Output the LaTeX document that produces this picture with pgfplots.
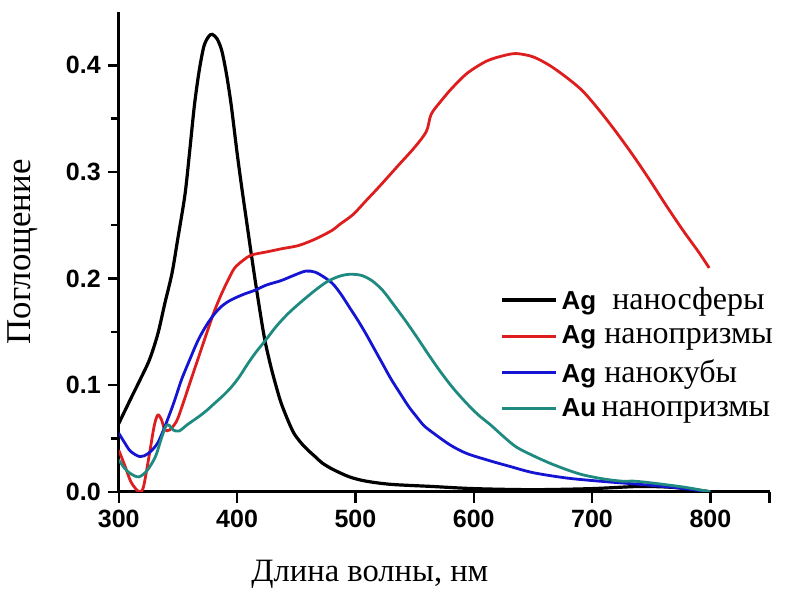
\documentclass[border=0pt]{standalone}
\usepackage{fontspec}
\setmainfont{Liberation Serif}
\newfontfamily\sansb{Liberation Sans}
\usepackage{pgfplots}
\pgfplotsset{compat=1.18}
\definecolor{cred}{RGB}{222,30,30}
\definecolor{cblue}{RGB}{20,20,210}
\definecolor{cteal}{RGB}{30,138,128}
\begin{document}
\begin{tikzpicture}
\begin{axis}[name=ax,
  scale only axis, width=325.5pt, height=240pt,
  xmin=300, xmax=850, ymin=0, ymax=0.45,
  axis lines=left, axis line style={-, line width=1.4pt},
  xtick={300,400,...,800,850}, xticklabels={300,400,500,600,700,800,},
  ytick={0,0.1,...,0.4},
  minor x tick num=1, minor y tick num=1,
  tick align=outside, major tick length=5.5pt, minor tick length=4pt,
  every tick/.style={black, line width=1.2pt},
  tick label style={font=\sansb\bfseries\fontsize{12.5}{12.5}\selectfont},
  /pgf/number format/assume math mode=true,
  yticklabel style={/pgf/number format/.cd, fixed, fixed zerofill, precision=1},
  xlabel={Длина волны, нм}, ylabel={Поглощение},
  xlabel style={font=\fontsize{16.3}{16.3}\selectfont, at={(axis description cs:0.386,0)}, anchor=center, yshift=-41.5pt},
  ylabel style={font=\fontsize{17.4}{17.4}\selectfont, at={(axis description cs:-0.147,0.5)}, anchor=center},
  legend style={draw=none, fill=none, at={(0.586,0.435)}, anchor=north west,
    font=\fontsize{16}{16}\selectfont, row sep=2.5pt, inner sep=0pt},
  legend cell align=left,
  legend image code/.code={\draw[#1] (0pt,0pt) -- (27pt,0pt);},
  every axis plot/.append style={line width=1.4pt},
]
\addplot[black, smooth, line width=1.6pt] coordinates {
(300,0.064) (310,0.087) (318,0.105) (326,0.124) (333,0.148) (339,0.177) (345,0.205)
(350,0.238) (356,0.279) (360,0.320) (364,0.363) (368,0.395) (372,0.418) (376,0.427)
(379,0.429) (383,0.425) (387,0.414) (391,0.392) (395,0.363) (400,0.318) (404,0.285)
(408,0.254) (412,0.223) (417,0.186) (423,0.145) (428,0.120) (432,0.103) (437,0.084)
(443,0.067) (448,0.055) (454,0.046) (460,0.039) (466,0.033) (472,0.027) (481,0.021)
(495,0.014) (509,0.010) (530,0.007) (565,0.005) (600,0.003) (650,0.002) (700,0.003)
(740,0.005) (770,0.004) (800,0.000)};
\addlegendentry{{\sansb\bfseries\fontsize{13}{13}\selectfont Ag}\ \ наносферы}
\addplot[cred, smooth] coordinates {
(300,0.039) (305,0.025) (310,0.010) (315,0.002) (318,0.000) (321,0.005) (326,0.036)
(330,0.062) (333,0.072) (336,0.068) (339,0.058) (343,0.058) (347,0.063) (350,0.069)
(355,0.085) (361,0.105) (368,0.128) (375,0.151) (381,0.170) (387,0.186) (393,0.200)
(398,0.210) (405,0.217) (412,0.222) (425,0.225) (438,0.228) (452,0.231) (466,0.237)
(480,0.245) (487,0.251) (498,0.260) (509,0.273) (520,0.286) (537,0.307) (550,0.323)
(560,0.338) (564,0.354) (572,0.366) (582,0.379) (595,0.393) (611,0.404) (625,0.409)
(636,0.411) (650,0.408) (664,0.400) (678,0.389) (692,0.376) (706,0.358) (720,0.338)
(735,0.315) (749,0.292) (763,0.268) (777,0.245) (790,0.225) (799,0.210)};
\addlegendentry{{\sansb\bfseries\fontsize{13}{13}\selectfont Ag} нанопризмы}
\addplot[cblue, smooth] coordinates {
(300,0.055) (305,0.046) (310,0.038) (318,0.033) (325,0.036) (333,0.046) (341,0.067)
(347,0.085) (353,0.105) (360,0.124) (367,0.142) (374,0.156) (381,0.167) (388,0.175)
(395,0.180) (405,0.185) (415,0.189) (425,0.194) (437,0.198) (448,0.203) (458,0.207)
(466,0.206) (474,0.201) (481,0.195) (488,0.185) (495,0.173) (502,0.161) (509,0.148)
(516,0.134) (523,0.120) (530,0.106) (538,0.092) (545,0.080) (552,0.070) (558,0.062)
(566,0.055) (580,0.044) (594,0.036) (614,0.029) (630,0.024) (650,0.018) (678,0.013)
(706,0.010) (740,0.007) (770,0.004) (800,0.000)};
\addlegendentry{{\sansb\bfseries\fontsize{13}{13}\selectfont Ag} нанокубы}
\addplot[cteal, smooth] coordinates {
(300,0.030) (305,0.022) (310,0.017) (317,0.014) (324,0.020) (331,0.033) (336,0.050)
(340,0.062) (343,0.062) (346,0.058) (351,0.057) (358,0.063) (367,0.070) (374,0.076)
(381,0.083) (388,0.090) (395,0.098) (402,0.108) (409,0.120) (416,0.131) (424,0.142)
(433,0.155) (443,0.167) (454,0.178) (466,0.189) (476,0.197) (486,0.202) (495,0.204)
(505,0.203) (514,0.198) (523,0.189) (532,0.176) (542,0.161) (552,0.145) (561,0.130)
(571,0.114) (582,0.098) (594,0.083) (604,0.072) (614,0.063) (625,0.052) (636,0.042)
(650,0.034) (664,0.027) (678,0.021) (692,0.016) (710,0.012) (725,0.010) (735,0.010)
(745,0.009) (760,0.007) (780,0.004) (800,0.000)};
\addlegendentry{{\sansb\bfseries\fontsize{13}{13}\selectfont Au}\,нанопризмы}
\end{axis}
\pgfresetboundingbox
\path ([xshift=-59.4pt,yshift=-50pt]ax.south west) rectangle ([xshift=7.75pt,yshift=6pt]ax.north east);
\end{tikzpicture}
\end{document}
